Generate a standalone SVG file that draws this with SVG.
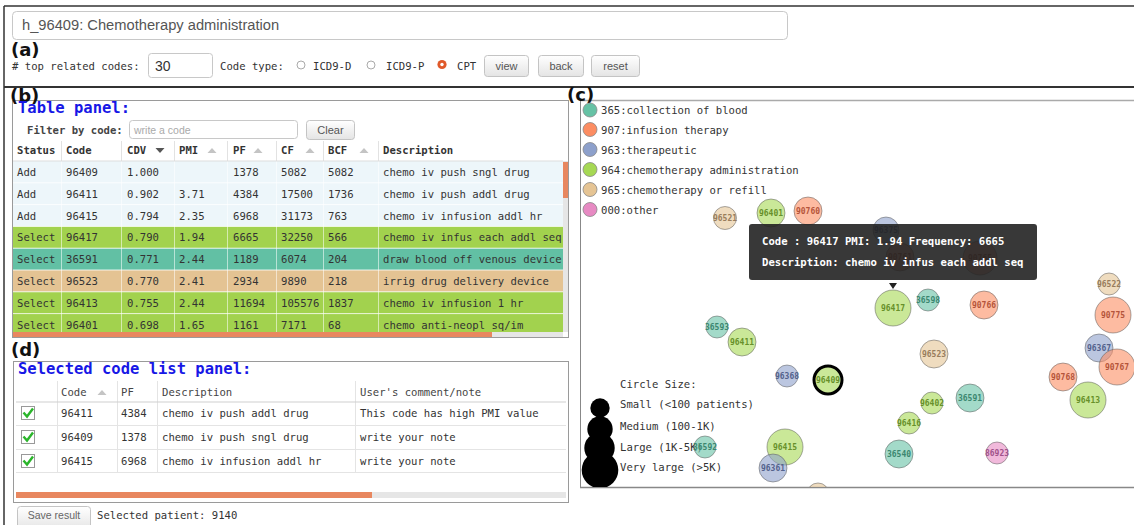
<svg xmlns="http://www.w3.org/2000/svg" width="1134" height="525" viewBox="0 0 1134 525">
  <defs>
    <style>
      .mono { font-family: "DejaVu Sans Mono", "Liberation Mono", monospace; font-size: 10.6px; fill: #333; }
      .b { font-weight: bold; }
      .sans { font-family: "Liberation Sans", Arial, sans-serif; }
      .tag { font-family: "DejaVu Sans", "Liberation Sans", sans-serif; font-weight: bold; font-size: 18px; fill: #111; }
      .title { font-family: "DejaVu Sans Mono", monospace; font-weight: bold; font-size: 15.5px; fill: #1717e6; }
      .btn { fill: url(#btnGrad); stroke: #c4c4c4; }
      .btxt { font-family: "Liberation Sans", Arial, sans-serif; font-size: 11px; fill: #555; text-anchor: middle; }
      .field { fill: #fff; stroke: #c8c8c8; }
      .sep { stroke: #fff; stroke-opacity: 0.55; }
      .hsep { stroke: #e2e2e2; }
      .tip { font-family: "DejaVu Sans Mono", monospace; font-weight: bold; font-size: 10.6px; fill: #fff; }
      .bub circle { fill-opacity: 0.6; stroke: #555; stroke-opacity: 0.5; }
      .bub text { font-family: "DejaVu Sans Mono", monospace; font-weight: bold; font-size: 8px; text-anchor: middle; }
      .bub.focus circle { stroke: #000; stroke-opacity: 1; stroke-width: 3; }
      .teal circle { fill: #66c2a5; } .teal text { fill: #3b8770; }
      .orng circle { fill: #fc8d62; } .orng text { fill: #b5553a; }
      .blue circle { fill: #8da0cb; } .blue text { fill: #53628c; }
      .grn circle { fill: #a6d854; } .grn text { fill: #67902a; }
      .tan circle { fill: #e5c494; } .tan text { fill: #987d5c; }
      .pink circle { fill: #e78ac3; } .pink text { fill: #a0528a; }
      .tri-on { fill: #555; }
      .tri-off { fill: #c4c4c4; }
    </style>
    <linearGradient id="btnGrad" x1="0" y1="0" x2="0" y2="1">
      <stop offset="0" stop-color="#ffffff"/>
      <stop offset="1" stop-color="#e4e4e4"/>
    </linearGradient>
    <clipPath id="tableClip"><rect x="13" y="140" width="550" height="192"/></clipPath>
    <clipPath id="chartClip"><rect x="581" y="101" width="553" height="386"/></clipPath>
  </defs>

  <rect width="1134" height="525" fill="#fff"/>

  <!-- outer frame -->
  <g id="frame" fill="none" stroke="#333">
    <line x1="4" y1="6" x2="1134" y2="6" stroke-width="1.5"/>
    <line x1="4" y1="6" x2="4" y2="525" stroke-width="1.5"/>
    <line x1="4" y1="87" x2="1134" y2="87" stroke-width="2"/>
  </g>

  <!-- (a) toolbar -->
  <g id="toolbar">
    <rect x="12.5" y="11.5" width="775" height="28" rx="4" class="field"/>
    <text x="22" y="30" class="sans" font-size="14.7" fill="#555">h_96409: Chemotherapy administration</text>
    <text x="11" y="56" class="tag">(a)</text>
    <text x="12" y="70" class="mono"># top related codes:</text>
    <rect x="148.5" y="53.5" width="64" height="24" rx="3" class="field"/>
    <text x="155" y="71" class="sans" font-size="14" fill="#333">30</text>
    <text x="220" y="70" class="mono">Code type:</text>
    <circle cx="301" cy="65" r="4" fill="#fff" stroke="#aaa"/>
    <text x="313" y="70" class="mono">ICD9-D</text>
    <circle cx="371" cy="65" r="4" fill="#fff" stroke="#aaa"/>
    <text x="386" y="70" class="mono">ICD9-P</text>
    <circle cx="442" cy="64.5" r="4.6" fill="#e0592a"/>
    <circle cx="442" cy="64.5" r="1.7" fill="#fff"/>
    <text x="457" y="70" class="mono">CPT</text>
    <rect x="484.5" y="55.5" width="44" height="21" rx="3" class="btn"/>
    <text x="506.5" y="70" class="btxt">view</text>
    <rect x="538.5" y="55.5" width="45" height="21" rx="3" class="btn"/>
    <text x="561" y="70" class="btxt">back</text>
    <rect x="591.5" y="55.5" width="48" height="21" rx="3" class="btn"/>
    <text x="615.5" y="70" class="btxt">reset</text>
  </g>

  <!-- (b) table panel -->
  <g id="table-panel">
    <rect x="12.5" y="100.5" width="556" height="237" fill="#fff" stroke="#9a9a9a"/>
    <text x="10" y="102" class="tag">(b)</text>
    <text x="18" y="113" class="title">Table panel:</text>
    <text x="27" y="134" class="mono b" style="fill:#444">Filter by code:</text>
    <rect x="129.5" y="120.5" width="168" height="18" rx="3" class="field"/>
    <text x="134" y="133.5" class="sans" font-size="10.5" fill="#aaa">write a code</text>
    <rect x="306.5" y="120.5" width="48" height="19" rx="3" class="btn"/>
    <text x="330.5" y="134" class="btxt">Clear</text>

    <g clip-path="url(#tableClip)">
      <!-- header -->
      <g class="mono b">
        <text x="17" y="154">Status</text>
        <text x="66" y="154">Code</text>
        <text x="127" y="154">CDV</text>
        <text x="179" y="154">PMI</text>
        <text x="233" y="154">PF</text>
        <text x="281" y="154">CF</text>
        <text x="328" y="154">BCF</text>
        <text x="383" y="154">Description</text>
      </g>
      <polygon class="tri-on" points="155.5,148 164.5,148 160,153"/>
      <polygon class="tri-off" points="207.5,153 216.5,153 212,148"/>
      <polygon class="tri-off" points="253.5,153 262.5,153 258,148"/>
      <polygon class="tri-off" points="305.5,153 314.5,153 310,148"/>
      <polygon class="tri-off" points="359.5,153 368.5,153 364,148"/>
      <g class="hsep">
        <line x1="61.5" y1="141" x2="61.5" y2="161"/>
        <line x1="121.5" y1="141" x2="121.5" y2="161"/>
        <line x1="174.5" y1="141" x2="174.5" y2="161"/>
        <line x1="227.5" y1="141" x2="227.5" y2="161"/>
        <line x1="276.5" y1="141" x2="276.5" y2="161"/>
        <line x1="323.5" y1="141" x2="323.5" y2="161"/>
        <line x1="378.5" y1="141" x2="378.5" y2="161"/>
      </g>

      <!-- row backgrounds -->
      <rect x="13" y="161" width="550" height="65.4" fill="#edf6fa"/>
      <rect x="13" y="226.4" width="550" height="21.8" fill="#a2d24e"/>
      <rect x="13" y="248.2" width="550" height="21.8" fill="#62c0a4"/>
      <rect x="13" y="270" width="550" height="21.8" fill="#e4c393"/>
      <rect x="13" y="291.8" width="550" height="44" fill="#a2d24e"/>
      <g stroke="#fff" stroke-opacity="0.8">
        <line x1="13" y1="182.8" x2="563" y2="182.8"/>
        <line x1="13" y1="204.6" x2="563" y2="204.6"/>
        <line x1="13" y1="226.4" x2="563" y2="226.4"/>
        <line x1="13" y1="248.2" x2="563" y2="248.2"/>
        <line x1="13" y1="270" x2="563" y2="270"/>
        <line x1="13" y1="291.8" x2="563" y2="291.8"/>
        <line x1="13" y1="313.6" x2="563" y2="313.6"/>
      </g>
      <g class="sep">
        <line x1="61.5" y1="161" x2="61.5" y2="336"/>
        <line x1="121.5" y1="161" x2="121.5" y2="336"/>
        <line x1="174.5" y1="161" x2="174.5" y2="336"/>
        <line x1="227.5" y1="161" x2="227.5" y2="336"/>
        <line x1="276.5" y1="161" x2="276.5" y2="336"/>
        <line x1="323.5" y1="161" x2="323.5" y2="336"/>
        <line x1="378.5" y1="161" x2="378.5" y2="336"/>
      </g>

      <!-- row cells -->
      <g class="mono">
        <text y="176"><tspan x="17">Add</tspan><tspan x="66">96409</tspan><tspan x="127">1.000</tspan><tspan x="233">1378</tspan><tspan x="281">5082</tspan><tspan x="328">5082</tspan><tspan x="383">chemo iv push sngl drug</tspan></text>
        <text y="197.8"><tspan x="17">Add</tspan><tspan x="66">96411</tspan><tspan x="127">0.902</tspan><tspan x="179">3.71</tspan><tspan x="233">4384</tspan><tspan x="281">17500</tspan><tspan x="328">1736</tspan><tspan x="383">chemo iv push addl drug</tspan></text>
        <text y="219.6"><tspan x="17">Add</tspan><tspan x="66">96415</tspan><tspan x="127">0.794</tspan><tspan x="179">2.35</tspan><tspan x="233">6968</tspan><tspan x="281">31173</tspan><tspan x="328">763</tspan><tspan x="383">chemo iv infusion addl hr</tspan></text>
        <text y="241.4"><tspan x="17">Select</tspan><tspan x="66">96417</tspan><tspan x="127">0.790</tspan><tspan x="179">1.94</tspan><tspan x="233">6665</tspan><tspan x="281">32250</tspan><tspan x="328">566</tspan><tspan x="383">chemo iv infus each addl seq</tspan></text>
        <text y="263.2"><tspan x="17">Select</tspan><tspan x="66">36591</tspan><tspan x="127">0.771</tspan><tspan x="179">2.44</tspan><tspan x="233">1189</tspan><tspan x="281">6074</tspan><tspan x="328">204</tspan><tspan x="383">draw blood off venous device</tspan></text>
        <text y="285"><tspan x="17">Select</tspan><tspan x="66">96523</tspan><tspan x="127">0.770</tspan><tspan x="179">2.41</tspan><tspan x="233">2934</tspan><tspan x="281">9890</tspan><tspan x="328">218</tspan><tspan x="383">irrig drug delivery device</tspan></text>
        <text y="306.8"><tspan x="17">Select</tspan><tspan x="66">96413</tspan><tspan x="127">0.755</tspan><tspan x="179">2.44</tspan><tspan x="233">11694</tspan><tspan x="281">105576</tspan><tspan x="328">1837</tspan><tspan x="383">chemo iv infusion 1 hr</tspan></text>
        <text y="328.6"><tspan x="17">Select</tspan><tspan x="66">96401</tspan><tspan x="127">0.698</tspan><tspan x="179">1.65</tspan><tspan x="233">1161</tspan><tspan x="281">7171</tspan><tspan x="328">68</tspan><tspan x="383">chemo anti-neopl sq/im</tspan></text>
      </g>
    </g>
    <line x1="13" y1="161" x2="563" y2="161" stroke="#ddd"/>

    <!-- scrollbars -->
    <rect x="563" y="161" width="5" height="171" fill="#e6e6e6"/>
    <rect x="563" y="162" width="5" height="36" fill="#e8875f"/>
    <rect x="13" y="332" width="550" height="5" fill="#e6e6e6"/>
    <rect x="13" y="332" width="479" height="5" fill="#e8875f"/>
  </g>

  <!-- (d) selected code list panel -->
  <g id="selected-panel">
    <text x="11" y="356" class="tag">(d)</text>
    <rect x="13.5" y="361.5" width="555" height="141" fill="#fff" stroke="#9a9a9a"/>
    <text x="18" y="374" class="title">Selected code list panel:</text>
    <g class="mono" style="fill:#444">
      <text x="61" y="396">Code</text>
      <text x="121" y="396">PF</text>
      <text x="162" y="396">Description</text>
      <text x="360" y="396">User's comment/note</text>
    </g>
    <polygon class="tri-off" points="97.5,395 106.5,395 102,390"/>
    <g stroke="#e4e4e4">
      <line x1="57.5" y1="381" x2="57.5" y2="472"/>
      <line x1="117.5" y1="381" x2="117.5" y2="472"/>
      <line x1="157.5" y1="381" x2="157.5" y2="472"/>
      <line x1="355.5" y1="381" x2="355.5" y2="472"/>
      <line x1="16" y1="425.5" x2="566" y2="425.5"/>
      <line x1="16" y1="449.5" x2="566" y2="449.5"/>
      <line x1="16" y1="472.5" x2="566" y2="472.5"/>
    </g>
    <line x1="16" y1="402" x2="566" y2="402" stroke="#cfcfcf"/>
    <g id="check-rows">
      <g>
        <rect x="21.5" y="406.5" width="13" height="13" fill="#fff" stroke="#999"/>
        <path d="M23.5 412.5 L27 416.5 L33 408.5" fill="none" stroke="#2bb52b" stroke-width="2.4"/>
      </g>
      <g>
        <rect x="21.5" y="430.5" width="13" height="13" fill="#fff" stroke="#999"/>
        <path d="M23.5 436.5 L27 440.5 L33 432.5" fill="none" stroke="#2bb52b" stroke-width="2.4"/>
      </g>
      <g>
        <rect x="21.5" y="454.5" width="13" height="13" fill="#fff" stroke="#999"/>
        <path d="M23.5 460.5 L27 464.5 L33 456.5" fill="none" stroke="#2bb52b" stroke-width="2.4"/>
      </g>
    </g>
    <g class="mono">
      <text y="417"><tspan x="61">96411</tspan><tspan x="121">4384</tspan><tspan x="162">chemo iv push addl drug</tspan><tspan x="360">This code has high PMI value</tspan></text>
      <text y="441"><tspan x="61">96409</tspan><tspan x="121">1378</tspan><tspan x="162">chemo iv push sngl drug</tspan><tspan x="360">write your note</tspan></text>
      <text y="465"><tspan x="61">96415</tspan><tspan x="121">6968</tspan><tspan x="162">chemo iv infusion addl hr</tspan><tspan x="360">write your note</tspan></text>
    </g>
    <rect x="16" y="492" width="550" height="6" fill="#e6e6e6"/>
    <rect x="16" y="492" width="356" height="6" fill="#e8875f"/>
    <rect x="17.5" y="506.5" width="73" height="24" rx="3" class="btn"/>
    <text x="54" y="519" class="btxt" style="font-size:10.5px;fill:#666">Save result</text>
    <text x="97" y="519" class="mono">Selected patient: 9140</text>
  </g>

  <!-- (c) bubble chart panel -->
  <g id="chart-panel">
    <line x1="580" y1="100.5" x2="1134" y2="100.5" stroke="#aaa" stroke-width="1.5"/>
    <line x1="580.5" y1="100" x2="580.5" y2="487" stroke="#888"/>
    <line x1="580" y1="487.5" x2="1134" y2="487.5" stroke="#888" stroke-width="1.5"/>
    <text x="567" y="101" class="tag">(c)</text>

    <g id="category-legend" class="mono">
      <circle cx="590" cy="110" r="7" fill="#66c2a5" stroke="#888" stroke-width="0.8"/>
      <text x="601" y="114">365:collection of blood</text>
      <circle cx="590" cy="129.5" r="7" fill="#fc8d62" stroke="#888" stroke-width="0.8"/>
      <text x="601" y="133.5">907:infusion therapy</text>
      <circle cx="590" cy="149.5" r="7" fill="#8da0cb" stroke="#888" stroke-width="0.8"/>
      <text x="601" y="153.5">963:therapeutic</text>
      <circle cx="590" cy="169.5" r="7" fill="#a6d854" stroke="#888" stroke-width="0.8"/>
      <text x="601" y="173.5">964:chemotherapy administration</text>
      <circle cx="590" cy="189.5" r="7" fill="#e5c494" stroke="#888" stroke-width="0.8"/>
      <text x="601" y="193.5">965:chemotherapy or refill</text>
      <circle cx="590" cy="209.5" r="7" fill="#e78ac3" stroke="#888" stroke-width="0.8"/>
      <text x="601" y="213.5">000:other</text>
    </g>

    <g id="size-legend" clip-path="url(#chartClip)">
      <circle cx="600" cy="470" r="18.3" fill="#000"/>
      <circle cx="599.5" cy="448" r="15.2" fill="#000"/>
      <circle cx="600" cy="429" r="12.7" fill="#000"/>
      <circle cx="600" cy="408" r="9.7" fill="#000"/>
      <g class="mono">
        <text x="620" y="388">Circle Size:</text>
        <text x="620" y="408">Small (&lt;100 patients)</text>
        <text x="620" y="430">Medium (100-1K)</text>
        <text x="620" y="451">Large (1K-5K)</text>
        <text x="620" y="471">Very large (&gt;5K)</text>
      </g>
    </g>

    <g id="bubbles" clip-path="url(#chartClip)">
      <g id="n96521" class="bub tan"><circle cx="725" cy="218" r="11.5"/><text x="725" y="221">96521</text></g>
      <g id="n96401" class="bub grn"><circle cx="771" cy="213" r="14"/><text x="771" y="216">96401</text></g>
      <g id="n90760" class="bub orng"><circle cx="808" cy="211" r="14"/><text x="808" y="214">90760</text></g>
      <g id="n96375" class="bub blue"><circle cx="886" cy="230" r="13"/><text x="886" y="233">96375</text></g>
      <g id="n90761" class="bub orng"><circle cx="900" cy="257" r="14"/><text x="900" y="260">90761</text></g>
      <g id="n90765" class="bub orng"><circle cx="980" cy="258" r="17"/><text x="980" y="261">90765</text></g>
      <g id="n96417" class="bub grn"><circle cx="893" cy="308" r="18"/><text x="893" y="311">96417</text></g>
      <g id="n36598" class="bub teal"><circle cx="928" cy="300" r="11"/><text x="928" y="303">36598</text></g>
      <g id="n90766" class="bub orng"><circle cx="984" cy="305" r="14"/><text x="984" y="308">90766</text></g>
      <g id="n96522" class="bub tan"><circle cx="1109" cy="284" r="11"/><text x="1109" y="287">96522</text></g>
      <g id="n90775" class="bub orng"><circle cx="1113" cy="315" r="18"/><text x="1113" y="318">90775</text></g>
      <g id="n36593" class="bub teal"><circle cx="717" cy="327" r="11"/><text x="717" y="330">36593</text></g>
      <g id="n96411" class="bub grn"><circle cx="742" cy="342" r="14"/><text x="742" y="345">96411</text></g>
      <g id="n96523" class="bub tan"><circle cx="934" cy="354" r="14"/><text x="934" y="357">96523</text></g>
      <g id="n96367" class="bub blue"><circle cx="1099" cy="348" r="14"/><text x="1099" y="351">96367</text></g>
      <g id="n90767" class="bub orng"><circle cx="1117" cy="367" r="18"/><text x="1117" y="370">90767</text></g>
      <g id="n90768" class="bub orng"><circle cx="1063" cy="377" r="14"/><text x="1063" y="380">90768</text></g>
      <g id="n96413" class="bub grn"><circle cx="1088" cy="400" r="18"/><text x="1088" y="403">96413</text></g>
      <g id="n36591" class="bub teal"><circle cx="970" cy="398" r="14"/><text x="970" y="401">36591</text></g>
      <g id="n96402" class="bub grn"><circle cx="932" cy="403" r="11"/><text x="932" y="406">96402</text></g>
      <g id="n96416" class="bub grn"><circle cx="909" cy="423" r="11"/><text x="909" y="426">96416</text></g>
      <g id="n36540" class="bub teal"><circle cx="899" cy="454" r="14"/><text x="899" y="457">36540</text></g>
      <g id="n86923" class="bub pink"><circle cx="997" cy="453" r="11"/><text x="997" y="456">86923</text></g>
      <g id="n96368" class="bub blue"><circle cx="787" cy="376" r="11"/><text x="787" y="379">96368</text></g>
      <g id="n96409" class="bub grn focus"><circle cx="828" cy="380" r="14"/><text x="828" y="383">96409</text></g>
      <g id="n36592" class="bub teal"><circle cx="705" cy="447" r="11"/><text x="705" y="450">36592</text></g>
      <g id="n96415" class="bub grn"><circle cx="785" cy="447" r="18"/><text x="785" y="450">96415</text></g>
      <g id="n96361" class="bub blue"><circle cx="773" cy="468" r="14"/><text x="773" y="471">96361</text></g>
      <g id="n-bottom" class="bub tan"><circle cx="818" cy="494" r="11"/></g>
    </g>

    <g id="tooltip">
      <rect x="749" y="224" width="288" height="56" rx="3" fill="#222" fill-opacity="0.9"/>
      <polygon points="889,283 897,283 893,289" fill="#222"/>
      <text x="762" y="245" class="tip">Code : 96417 PMI: 1.94 Frequency: 6665</text>
      <text x="762" y="266" class="tip">Description: chemo iv infus each addl seq</text>
    </g>
  </g>
</svg>
